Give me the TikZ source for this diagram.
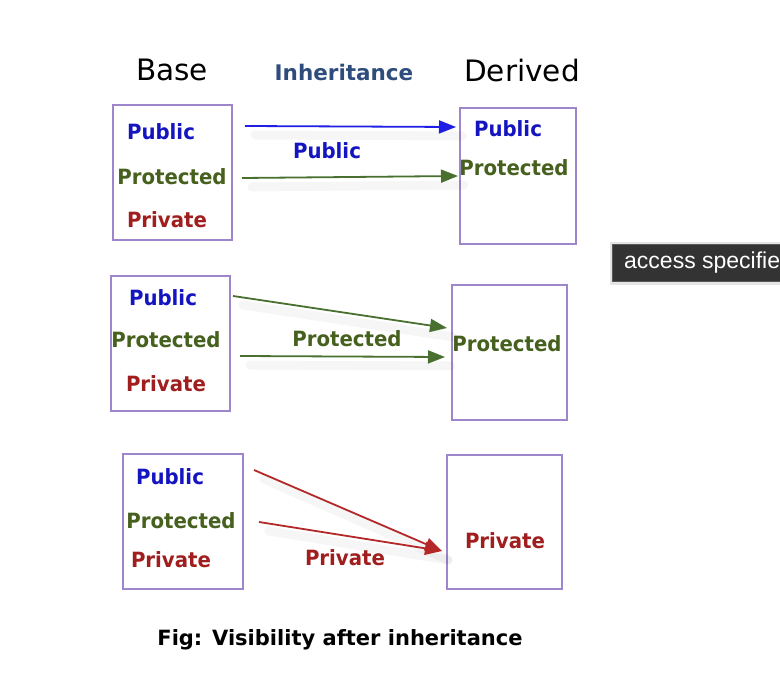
\documentclass[tikz,border=0pt]{standalone}
\usepackage{fontspec}
\setmainfont{DejaVu Sans}
\newfontfamily\tipfont{Liberation Sans}
\newfontfamily\labfont[FakeStretch=0.94]{DejaVu Sans Bold}
\usetikzlibrary{arrows.meta}
\definecolor{cpub}{HTML}{1414C0}
\definecolor{cpro}{HTML}{46601E}
\definecolor{cpri}{HTML}{A01E1E}
\definecolor{apub}{HTML}{1E1EE6}
\definecolor{apro}{HTML}{4A7030}
\definecolor{apri}{HTML}{B42828}
\definecolor{cbox}{HTML}{9E86CC}
\definecolor{cinh}{HTML}{2E4C7C}
\definecolor{ctip}{HTML}{333333}
\tikzset{
  box/.style={draw=cbox, line width=1.6pt, inner sep=0, fill=white},
  lab/.style={inner sep=0, font=\labfont\fontsize{21}{22}\selectfont},
  pub/.style={lab, text=cpub},
  pro/.style={lab, text=cpro},
  pri/.style={lab, text=cpri},
  title/.style={inner sep=0, font=\fontsize{29.5}{31}\selectfont},
  arr/.style={line width=1.8pt, -{Triangle[length=17pt,width=13pt]}},
  shad/.style={line width=9pt, draw=black, opacity=0.035, line cap=round},
}
\begin{document}
\begin{tikzpicture}[x=1pt,y=-1pt]
\useasboundingbox (0,0) rectangle (780,690);
\fill[white] (0,0) rectangle (780,690);
% titles
\node[title] (tbase) at (172,70) {Base};
\node[inner sep=0, font=\fontsize{21.5}{23}\selectfont\bfseries, text=cinh] (tinh) at (344,72) {Inheritance};
\node[title] (tder) at (522,71) {Derived};
% row 1
\node[box, minimum width=119pt, minimum height=135pt] (b1) at (172.5,172.5) {};
\node[box, minimum width=116pt, minimum height=136pt] (d1) at (518,176) {};
\node[pub] (b1pub) at (161,132) {Public};
\node[pro] (b1pro) at (172,177) {Protected};
\node[pri] (b1pri) at (167,220) {Private};
\node[pub] (d1pub) at (508,129) {Public};
\node[pro] (d1pro) at (514,168) {Protected};
\node[pub] (l1) at (327,151) {Public};
\coordinate (s1a) at (245,126);
\coordinate (e1a) at (456,127);
\coordinate (s1b) at (242,178);
\coordinate (e1b) at (458,176);
\draw[shad] ([shift={(10,9)}]s1a) -- ([shift={(6,9)}]e1a);
\draw[shad] ([shift={(10,9)}]s1b) -- ([shift={(6,9)}]e1b);
\draw[arr, draw=apub, fill=apub] (s1a) -- (e1a);
\draw[arr, draw=apro, fill=apro] (s1b) -- (e1b);
% row 2
\node[box, minimum width=119pt, minimum height=135pt] (b2) at (170.5,343.5) {};
\node[box, minimum width=115pt, minimum height=135pt] (d2) at (509.5,352.5) {};
\node[pub] (b2pub) at (163,298) {Public};
\node[pro] (b2pro) at (166,340) {Protected};
\node[pri] (b2pri) at (166,384) {Private};
\node[pro] (d2pro) at (507,344) {Protected};
\node[pro] (l2) at (347,339) {Protected};
\coordinate (s2a) at (233,296);
\coordinate (e2a) at (447,328);
\coordinate (s2b) at (240,356);
\coordinate (e2b) at (445,357);
\draw[shad] ([shift={(10,9)}]s2a) -- ([shift={(6,9)}]e2a);
\draw[shad] ([shift={(10,9)}]s2b) -- ([shift={(6,9)}]e2b);
\draw[arr, draw=apro, fill=apro] (s2a) -- (e2a);
\draw[arr, draw=apro, fill=apro] (s2b) -- (e2b);
% row 3
\node[box, minimum width=120pt, minimum height=135pt] (b3) at (183,521.5) {};
\node[box, minimum width=115pt, minimum height=134pt] (d3) at (504.5,522) {};
\node[pub] (b3pub) at (170,477) {Public};
\node[pro] (b3pro) at (181,521) {Protected};
\node[pri] (b3pri) at (171,560) {Private};
\node[pri] (d3pri) at (505,541) {Private};
\node[pri] (l3) at (345,558) {Private};
\coordinate (s3a) at (254,470);
\coordinate (s3b) at (259,522);
\coordinate (e3) at (442,551);
\draw[shad] ([shift={(10,9)}]s3a) -- ([shift={(6,9)}]e3);
\draw[shad] ([shift={(10,9)}]s3b) -- ([shift={(6,9)}]e3);
\draw[arr, draw=apri, fill=apri] (s3a) -- (e3);
\draw[arr, draw=apri, fill=apri] (s3b) -- (e3);
% caption
\node[inner sep=0, font=\fontsize{21}{22}\selectfont\bfseries] (cap) at (340,640) {Fig: Visibility after inheritance};
% tooltip
\begin{scope}
\clip (0,0) rectangle (780,690);
\fill[black, opacity=0.10] (610,242) rectangle (800,285);
\draw[fill=ctip, draw=gray!70!black, line width=0.8pt] (612,244) rectangle (800,281);
\node[inner sep=0, anchor=west, text=white, font=\tipfont\fontsize{23}{25}\selectfont] (tip) at (624,263) {access specifie};
\end{scope}
\end{tikzpicture}
\end{document}
